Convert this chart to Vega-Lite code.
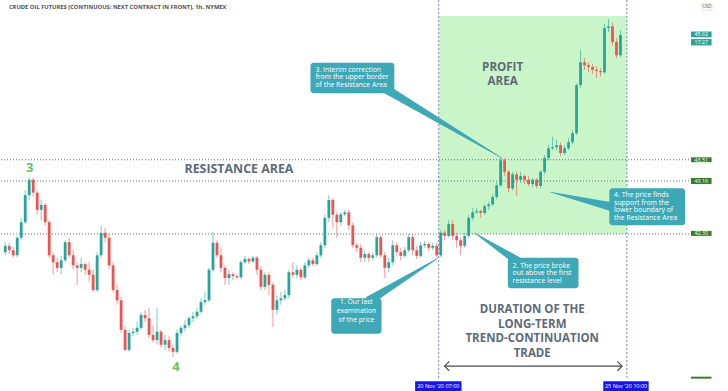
{
"$schema": "https://vega.github.io/schema/vega-lite/v6.json",
"width": 695, "height": 378,
"autosize": {"type": "none"},
"padding": {"left": 0, "top": 0, "right": 33, "bottom": 13},
"background": "#ffffff",
"config": {"view": {"stroke": null}, "font": "Open Sans"},
"datasets": {
"candles": [
{"i":1,"o":42.01,"h":42.17,"l":41.96,"c":42.11},{"i":2,"o":42.11,"h":42.16,"l":41.98,"c":42.04},{"i":3,"o":42.04,"h":42.09,"l":41.92,"c":41.96},{"i":4,"o":41.96,"h":42.27,"l":41.93,"c":42.24},{"i":5,"o":42.24,"h":42.56,"l":42.20,"c":42.49},
{"i":6,"o":42.49,"h":43.01,"l":42.46,"c":42.93},{"i":7,"o":42.93,"h":43.22,"l":42.85,"c":43.18},{"i":8,"o":43.18,"h":43.21,"l":42.90,"c":42.97},{"i":9,"o":42.97,"h":43.01,"l":42.61,"c":42.69},{"i":10,"o":42.69,"h":42.85,"l":42.52,"c":42.77},
{"i":11,"o":42.77,"h":42.80,"l":42.43,"c":42.49},{"i":12,"o":42.49,"h":42.52,"l":41.92,"c":41.96},{"i":13,"o":41.96,"h":42.01,"l":41.65,"c":41.85},{"i":14,"o":41.85,"h":41.92,"l":41.69,"c":41.76},{"i":15,"o":41.76,"h":41.95,"l":41.66,"c":41.88},
{"i":16,"o":41.88,"h":42.20,"l":41.85,"c":42.17},{"i":17,"o":42.17,"h":42.24,"l":41.92,"c":41.96},{"i":18,"o":41.96,"h":42.04,"l":41.73,"c":41.80},{"i":19,"o":41.80,"h":41.85,"l":41.49,"c":41.76},{"i":20,"o":41.76,"h":41.92,"l":41.69,"c":41.82},
{"i":21,"o":41.82,"h":41.85,"l":41.65,"c":41.73},{"i":22,"o":41.73,"h":41.85,"l":41.54,"c":41.65},{"i":23,"o":41.65,"h":41.73,"l":41.38,"c":41.41},{"i":24,"o":41.41,"h":42.01,"l":41.38,"c":41.96},{"i":25,"o":41.96,"h":42.44,"l":41.92,"c":42.32},
{"i":26,"o":42.32,"h":42.40,"l":42.17,"c":42.24},{"i":27,"o":42.24,"h":42.30,"l":41.73,"c":41.80},{"i":28,"o":41.80,"h":41.85,"l":41.38,"c":41.41},{"i":29,"o":41.41,"h":41.49,"l":41.18,"c":41.25},{"i":30,"o":41.25,"h":41.30,"l":40.74,"c":40.79},
{"i":31,"o":40.79,"h":40.85,"l":40.46,"c":40.48},{"i":32,"o":40.48,"h":40.79,"l":40.45,"c":40.74},{"i":33,"o":40.74,"h":40.82,"l":40.69,"c":40.76},{"i":34,"o":40.76,"h":40.91,"l":40.71,"c":40.82},{"i":35,"o":40.82,"h":41.07,"l":40.79,"c":41.02},
{"i":36,"o":41.02,"h":41.10,"l":40.91,"c":40.97},{"i":37,"o":40.97,"h":41.13,"l":40.66,"c":40.71},{"i":38,"o":40.71,"h":40.86,"l":40.59,"c":40.63},{"i":39,"o":40.63,"h":41.13,"l":40.56,"c":40.76},{"i":40,"o":40.76,"h":40.79,"l":40.51,"c":40.56},
{"i":41,"o":40.56,"h":40.71,"l":40.48,"c":40.63},{"i":42,"o":40.63,"h":40.69,"l":40.45,"c":40.51},{"i":43,"o":40.51,"h":40.56,"l":40.37,"c":40.45},{"i":44,"o":40.45,"h":40.79,"l":40.42,"c":40.74},{"i":45,"o":40.74,"h":40.85,"l":40.69,"c":40.82},
{"i":46,"o":40.82,"h":40.94,"l":40.76,"c":40.86},{"i":47,"o":40.86,"h":41.00,"l":40.82,"c":40.97},{"i":48,"o":40.97,"h":41.07,"l":40.91,"c":41.00},{"i":49,"o":41.00,"h":41.13,"l":40.97,"c":41.07},{"i":50,"o":41.07,"h":41.28,"l":41.04,"c":41.22},
{"i":51,"o":41.22,"h":41.38,"l":41.18,"c":41.25},{"i":52,"o":41.25,"h":41.76,"l":41.22,"c":41.73},{"i":53,"o":41.73,"h":42.33,"l":41.69,"c":42.16},{"i":54,"o":42.16,"h":42.20,"l":41.92,"c":41.96},{"i":55,"o":41.96,"h":42.09,"l":41.69,"c":41.76},
{"i":56,"o":41.76,"h":41.80,"l":41.49,"c":41.60},{"i":57,"o":41.60,"h":41.73,"l":41.49,"c":41.66},{"i":58,"o":41.66,"h":41.69,"l":41.57,"c":41.63},{"i":59,"o":41.63,"h":41.66,"l":41.58,"c":41.61},{"i":60,"o":41.61,"h":41.88,"l":41.58,"c":41.85},
{"i":61,"o":41.85,"h":41.95,"l":41.82,"c":41.90},{"i":62,"o":41.90,"h":41.93,"l":41.82,"c":41.86},{"i":63,"o":41.86,"h":41.95,"l":41.84,"c":41.92},{"i":64,"o":41.92,"h":41.95,"l":41.65,"c":41.73},{"i":65,"o":41.73,"h":41.79,"l":41.41,"c":41.46},
{"i":66,"o":41.46,"h":41.69,"l":41.41,"c":41.65},{"i":67,"o":41.65,"h":41.69,"l":41.33,"c":41.49},{"i":68,"o":41.49,"h":41.54,"l":40.83,"c":41.10},{"i":69,"o":41.10,"h":41.33,"l":41.02,"c":41.25},{"i":70,"o":41.25,"h":41.38,"l":41.18,"c":41.28},
{"i":71,"o":41.28,"h":41.41,"l":41.25,"c":41.33},{"i":72,"o":41.33,"h":41.73,"l":41.28,"c":41.69},{"i":73,"o":41.69,"h":41.85,"l":41.60,"c":41.65},{"i":74,"o":41.65,"h":41.80,"l":41.60,"c":41.73},{"i":75,"o":41.73,"h":41.76,"l":41.57,"c":41.61},
{"i":76,"o":41.61,"h":41.85,"l":41.58,"c":41.80},{"i":77,"o":41.80,"h":41.92,"l":41.76,"c":41.88},{"i":78,"o":41.88,"h":41.92,"l":41.79,"c":41.82},{"i":79,"o":41.82,"h":42.01,"l":41.79,"c":41.96},{"i":80,"o":41.96,"h":42.17,"l":41.92,"c":42.12},
{"i":81,"o":42.12,"h":42.61,"l":42.08,"c":42.56},{"i":82,"o":42.56,"h":42.93,"l":42.49,"c":42.85},{"i":83,"o":42.85,"h":42.88,"l":42.40,"c":42.61},{"i":84,"o":42.61,"h":42.65,"l":42.24,"c":42.49},{"i":85,"o":42.49,"h":42.65,"l":42.43,"c":42.62},
{"i":86,"o":42.62,"h":42.69,"l":42.59,"c":42.65},{"i":87,"o":42.65,"h":42.69,"l":42.36,"c":42.44},{"i":88,"o":42.44,"h":42.49,"l":42.08,"c":42.12},{"i":89,"o":42.12,"h":42.16,"l":42.01,"c":42.08},{"i":90,"o":42.08,"h":42.14,"l":41.85,"c":41.92},
{"i":91,"o":41.92,"h":42.04,"l":41.85,"c":41.98},{"i":92,"o":41.98,"h":42.01,"l":41.85,"c":41.92},{"i":93,"o":41.92,"h":42.01,"l":41.88,"c":41.96},{"i":94,"o":41.96,"h":42.30,"l":41.92,"c":42.25},{"i":95,"o":42.25,"h":42.28,"l":41.92,"c":41.96},
{"i":96,"o":41.96,"h":42.01,"l":41.60,"c":41.76},{"i":97,"o":41.76,"h":41.92,"l":41.69,"c":41.85},{"i":98,"o":41.85,"h":42.20,"l":41.80,"c":42.12},{"i":99,"o":42.12,"h":42.17,"l":41.95,"c":42.01},{"i":100,"o":42.01,"h":42.08,"l":41.88,"c":41.95},
{"i":101,"o":41.95,"h":42.09,"l":41.92,"c":42.04},{"i":102,"o":42.04,"h":42.30,"l":42.01,"c":42.25},{"i":103,"o":42.25,"h":42.30,"l":41.96,"c":42.04},{"i":104,"o":42.04,"h":42.11,"l":41.90,"c":41.95},{"i":105,"o":41.95,"h":42.17,"l":41.92,"c":42.12},
{"i":106,"o":42.12,"h":42.19,"l":42.08,"c":42.14},{"i":107,"o":42.14,"h":42.17,"l":42.03,"c":42.08},{"i":108,"o":42.08,"h":42.16,"l":42.04,"c":42.11},{"i":109,"o":42.11,"h":42.16,"l":41.92,"c":41.96},{"i":110,"o":41.96,"h":42.36,"l":41.93,"c":42.32},
{"i":111,"o":42.32,"h":42.36,"l":42.20,"c":42.27},{"i":112,"o":42.27,"h":42.52,"l":42.24,"c":42.46},{"i":113,"o":42.46,"h":42.52,"l":42.20,"c":42.27},{"i":114,"o":42.27,"h":42.32,"l":42.08,"c":42.20},{"i":115,"o":42.20,"h":42.25,"l":41.96,"c":42.11},
{"i":116,"o":42.11,"h":42.32,"l":42.08,"c":42.27},{"i":117,"o":42.27,"h":42.61,"l":42.24,"c":42.56},{"i":118,"o":42.56,"h":42.72,"l":42.52,"c":42.65},{"i":119,"o":42.65,"h":42.72,"l":42.62,"c":42.67},{"i":120,"o":42.67,"h":42.70,"l":42.56,"c":42.64},
{"i":121,"o":42.64,"h":42.78,"l":42.61,"c":42.75},{"i":122,"o":42.75,"h":42.82,"l":42.69,"c":42.78},{"i":123,"o":42.78,"h":42.95,"l":42.75,"c":42.90},{"i":124,"o":42.90,"h":43.14,"l":42.86,"c":43.09},{"i":125,"o":43.09,"h":43.55,"l":43.06,"c":43.50},
{"i":126,"o":43.50,"h":43.54,"l":43.24,"c":43.31},{"i":127,"o":43.31,"h":43.34,"l":42.98,"c":43.04},{"i":128,"o":43.04,"h":43.31,"l":43.01,"c":43.27},{"i":129,"o":43.27,"h":43.31,"l":42.92,"c":43.18},{"i":130,"o":43.18,"h":43.31,"l":43.13,"c":43.24},
{"i":131,"o":43.24,"h":43.27,"l":43.11,"c":43.18},{"i":132,"o":43.18,"h":43.24,"l":43.08,"c":43.11},{"i":133,"o":43.11,"h":43.21,"l":43.06,"c":43.18},{"i":134,"o":43.18,"h":43.21,"l":43.04,"c":43.08},{"i":135,"o":43.08,"h":43.34,"l":43.04,"c":43.31},
{"i":136,"o":43.31,"h":43.59,"l":43.27,"c":43.54},{"i":137,"o":43.54,"h":43.75,"l":43.50,"c":43.70},{"i":138,"o":43.70,"h":43.89,"l":43.67,"c":43.72},{"i":139,"o":43.72,"h":43.84,"l":43.67,"c":43.75},{"i":140,"o":43.75,"h":43.80,"l":43.57,"c":43.62},
{"i":141,"o":43.62,"h":43.75,"l":43.59,"c":43.70},{"i":142,"o":43.70,"h":43.87,"l":43.67,"c":43.80},{"i":143,"o":43.80,"h":44.00,"l":43.77,"c":43.95},{"i":144,"o":43.95,"h":44.79,"l":43.92,"c":44.76},{"i":145,"o":44.76,"h":45.36,"l":44.71,"c":45.15},
{"i":146,"o":45.15,"h":45.22,"l":45.02,"c":45.10},{"i":147,"o":45.10,"h":45.15,"l":44.98,"c":45.07},{"i":148,"o":45.07,"h":45.12,"l":44.95,"c":45.02},{"i":149,"o":45.02,"h":45.08,"l":44.88,"c":45.00},{"i":150,"o":45.00,"h":45.05,"l":44.91,"c":44.98},
{"i":151,"o":44.98,"h":45.81,"l":44.95,"c":45.74},{"i":152,"o":45.74,"h":45.90,"l":45.67,"c":45.77},{"i":153,"o":45.77,"h":45.84,"l":45.44,"c":45.50},{"i":154,"o":45.50,"h":45.57,"l":45.22,"c":45.27},{"i":155,"o":45.27,"h":45.70,"l":45.24,"c":45.62}
],
"pointers": [
{"id":1,"end":"base","i":92.2,"p":41.25},{"id":1,"end":"tip","i":109.5,"p":41.92},
{"id":2,"end":"base","i":129.7,"p":41.85},{"id":2,"end":"tip","i":118.4,"p":42.32},
{"id":3,"end":"base","i":95.9,"p":44.71},{"id":3,"end":"tip","i":125.3,"p":43.54},
{"id":4,"end":"base","i":152.9,"p":42.74},{"id":4,"end":"tip","i":137.4,"p":42.98}
],
"boxes": [
{"i1":82.6,"i2":95.2,"p1":41.28,"p2":40.73},
{"i1":126.8,"i2":144.5,"p1":41.92,"p2":41.44},
{"i1":77.4,"i2":98.4,"p1":45.14,"p2":44.62},
{"i1":152.2,"i2":171.2,"p1":43.04,"p2":42.44}
],
"tags": [
{"p1":45.68,"p2":45.58,"kind":"cur","text":"45.62","pt":45.63},
{"p1":45.55,"p2":45.44,"kind":"cur","text":"17:27","pt":45.495},
{"p1":43.55,"p2":43.47,"kind":"lvl","text":"43.51","pt":43.51},
{"p1":43.21,"p2":43.11,"kind":"lvl","text":"43.16","pt":43.16},
{"p1":42.35,"p2":42.27,"kind":"lvl","text":"42.30","pt":42.31},
{"p1":40.07,"p2":40.04,"kind":"lvl","text":"","pt":40.05}
],
"dates": [
{"i1":103.6,"i2":115.2,"ic":109.4,"text":"20 Nov '20   07:00"},
{"i1":150.7,"i2":162.05,"ic":156.4,"text":"25 Nov '20   10:00"}
]
},
"layer": [
{
"data": {"values": [{"i1":109.5,"i2":156.6,"p1":45.95,"p2":42.30}]},
"mark": {"type":"rect","color":"#c9f5c9"},
"encoding": {
"x": {"field":"i1","type":"quantitative","scale":{"domain":[0.94,172.4],"nice":false,"zero":false},
"axis":{"title":null,"values":[15,30,45,60,75,90,105,120,135,150,165],"labelExpr":"['12','13','16','17','18','19','20','23','24','25','26'][datum.value/15-1]","grid":true,"gridColor":"#eef0f5","ticks":false,"domainColor":"#a3a6af","labelColor":"#50535e","labelFontSize":5.5,"labelPadding":5,"labelFont":"Open Sans"}},
"x2": {"field":"i2"},
"y": {"field":"p1","type":"quantitative","scale":{"type":"log","domain":[40.05,46.23],"nice":false},
"axis":{"title":null,"orient":"right","values":[40.23,40.45,40.7,40.95,41.2,41.5,41.8,42.1,42.4,42.7,43.1,43.5,43.9,44.3,44.7,45.1,45.5,46],"format":".2f","grid":true,"gridColor":"#eef0f5","tickSize":3,"tickColor":"#a3a6af","domainColor":"#a3a6af","labelColor":"#50535e","labelFontSize":5.5,"labelPadding":2,"labelFont":"Open Sans"}},
"y2": {"field":"p2"}
}
},
{
"data": {"values": [{"p":43.51},{"p":43.16},{"p":42.30}]},
"mark": {"type":"rule","color":"#6b6e78","strokeDash":[1,2],"strokeWidth":1},
"encoding": {"y": {"field":"p","type":"quantitative","axis":null}}
},
{
"data": {"values": [{"i":109.5},{"i":156.6}]},
"mark": {"type":"rule","color":"#7b83c9","strokeDash":[2,2],"strokeWidth":1},
"encoding": {"x": {"field":"i","type":"quantitative","axis":null}}
},
{
"data": {"name":"candles"},
"mark": {"type":"rule","strokeWidth":1,"opacity":0.6},
"encoding": {
"x": {"field":"i","type":"quantitative","axis":null},
"y": {"field":"l","type":"quantitative","axis":null},
"y2": {"field":"h"},
"color": {"condition":{"test":"datum.c >= datum.o","value":"#26a69a"},"value":"#ef5350"}
}
},
{
"data": {"name":"candles"},
"mark": {"type":"bar","width":2.8},
"encoding": {
"x": {"field":"i","type":"quantitative","axis":null},
"y": {"field":"o","type":"quantitative","axis":null},
"y2": {"field":"c"},
"color": {"condition":{"test":"datum.c >= datum.o","value":"#26a69a"},"value":"#ef5350"}
}
},
{
"data": {"values": [{"i":59.5,"p":43.36,"text":"RESISTANCE AREA"}]},
"mark": {"type":"text","font":"Open Sans","fontSize":12.4,"fontWeight":"bold","color":"#5d6b78","align":"center","baseline":"middle"},
"encoding": {"x":{"field":"i","type":"quantitative","axis":null},"y":{"field":"p","type":"quantitative","axis":null},"text":{"field":"text"}}
},
{
"data": {"values": [{"i":125.5,"p":45.06,"text":"PROFIT\nAREA"}]},
"mark": {"type":"text","font":"Open Sans","fontSize":11.6,"fontWeight":"bold","color":"#5d6b78","align":"center","baseline":"middle","lineBreak":"\n","lineHeight":14},
"encoding": {"x":{"field":"i","type":"quantitative","axis":null},"y":{"field":"p","type":"quantitative","axis":null},"text":{"field":"text"}}
},
{
"data": {"values": [{"i":132.9,"p":41.10,"text":"DURATION OF THE\nLONG-TERM\nTREND-CONTINUATION\nTRADE"}]},
"mark": {"type":"text","font":"Open Sans","fontSize":11.5,"fontWeight":"bold","color":"#5d6b78","align":"center","baseline":"middle","lineBreak":"\n","lineHeight":14.8},
"encoding": {"x":{"field":"i","type":"quantitative","axis":null},"y":{"field":"p","type":"quantitative","axis":null},"text":{"field":"text"}}
},
{
"data": {"values": [{"i":7.1,"p":43.37,"text":"3"},{"i":43.74,"p":40.21,"text":"4"}]},
"mark": {"type":"text","font":"Open Sans","fontSize":13,"fontWeight":"bold","color":"#6abf69","align":"center","baseline":"middle"},
"encoding": {"x":{"field":"i","type":"quantitative","axis":null},"y":{"field":"p","type":"quantitative","axis":null},"text":{"field":"text"}}
},
{
"data": {"values": [{"i":1.92,"p":46.105,"text":"CRUDE OIL FUTURES [CONTINUOUS: NEXT CONTRACT IN FRONT], 1h, NYMEX"}]},
"mark": {"type":"text","font":"Open Sans","fontSize":5.8,"fontWeight":"bold","color":"#4c4f57","align":"left","baseline":"middle"},
"encoding": {"x":{"field":"i","type":"quantitative","axis":null},"y":{"field":"p","type":"quantitative","axis":null},"text":{"field":"text"}}
},
{
"data": {"name":"pointers"},
"mark": {"type":"trail","color":"#3ea8b6"},
"encoding": {
"x":{"field":"i","type":"quantitative","axis":null},
"y":{"field":"p","type":"quantitative","axis":null},
"detail":{"field":"id","type":"nominal"},
"size":{"field":"end","type":"ordinal","scale":{"domain":["base","tip"],"range":[9,0.5]},"legend":null}
}
},
{
"data": {"name":"boxes"},
"mark": {"type":"rect","color":"#3ea8b6","cornerRadius":3},
"encoding": {"x":{"field":"i1","type":"quantitative","axis":null},"x2":{"field":"i2"},"y":{"field":"p1","type":"quantitative","axis":null},"y2":{"field":"p2"}}
},
{
"data": {"values": [{"i":88.9,"p":41.22,"text":"1. Our last\nexamination\nof the price"}]},
"mark": {"type":"text","font":"Open Sans","fontSize":6.8,"color":"#ffffff","align":"center","baseline":"middle","lineBreak":"\n","lineHeight":9},
"encoding": {"x":{"field":"i","type":"quantitative","axis":null},"y":{"field":"p","type":"quantitative","axis":null},"text":{"field":"text"}}
},
{
"data": {"values": [
{"i":128.0,"p":41.79,"text":"2. The price broke\nout above the first\nresistance level"},
{"i":78.65,"p":45.02,"text":"3. Interim correction\nfrom the upper border\nof the Resistance Area"},
{"i":153.4,"p":42.93,"text":"4. The price finds\nsupport from the\nlower boundary of\nthe Resistance Area"}]},
"mark": {"type":"text","font":"Open Sans","fontSize":6.9,"color":"#ffffff","align":"left","baseline":"middle","lineBreak":"\n","lineHeight":7.5},
"encoding": {"x":{"field":"i","type":"quantitative","axis":null},"y":{"field":"p","type":"quantitative","axis":null},"text":{"field":"text"}}
},
{
"data": {"values": [{"i":110.97,"i2":155.4,"p":40.23}]},
"mark": {"type":"rule","color":"#4a4a4a","strokeWidth":1.2},
"encoding": {"x":{"field":"i","type":"quantitative","axis":null},"x2":{"field":"i2"},"y":{"field":"p","type":"quantitative","axis":null}}
},
{
"data": {"values": [{"i":110.97,"p":40.23,"dir":"left"},{"i":155.4,"p":40.23,"dir":"right"}]},
"mark": {"type":"point","filled":false,"color":"#4a4a4a","strokeWidth":1.2,"size":90,"opacity":1},
"encoding": {"x":{"field":"i","type":"quantitative","axis":null},"y":{"field":"p","type":"quantitative","axis":null},
"shape":{"field":"dir","type":"nominal","scale":{"domain":["left","right"],"range":["M1,-1L0,0L1,1","M-1,-1L0,0L-1,1"]},"legend":null}}
},
{
"data": {"name":"dates"},
"mark": {"type":"rect","color":"#1414ee"},
"encoding": {"x":{"field":"i1","type":"quantitative","axis":null},"x2":{"field":"i2"},"y":{"datum":40.0,"type":"quantitative","axis":null},"y2":{"datum":39.85}}
},
{
"data": {"name":"dates"},
"mark": {"type":"text","font":"Open Sans","fontSize":5.5,"color":"#ffffff","align":"center","baseline":"middle"},
"encoding": {"x":{"field":"ic","type":"quantitative","axis":null},"y":{"datum":39.925,"type":"quantitative","axis":null},"text":{"field":"text"}}
},
{
"data": {"name":"tags"},
"mark": {"type":"rect"},
"encoding": {"x":{"datum":172.65,"type":"quantitative","axis":null},"x2":{"datum":177.8},"y":{"field":"p1","type":"quantitative","axis":null},"y2":{"field":"p2"},
"color":{"field":"kind","type":"nominal","scale":{"domain":["cur","lvl"],"range":["#26a69a","#387d2a"]},"legend":null}}
},
{
"data": {"name":"tags"},
"mark": {"type":"text","font":"Open Sans","fontSize":5.3,"color":"#ffffff","align":"center","baseline":"middle"},
"encoding": {"x":{"datum":175.2,"type":"quantitative","axis":null},"y":{"field":"pt","type":"quantitative","axis":null},"text":{"field":"text"}}
},
{
"data": {"values": [{"p1":46.16,"p2":46.05,"pt":46.105,"text":"USD"}]},
"mark": {"type":"rect","fill":"#ffffff","stroke":"#c8cbd2","strokeWidth":0.6},
"encoding": {"x":{"datum":175.4,"type":"quantitative","axis":null},"x2":{"datum":177.9},"y":{"field":"p1","type":"quantitative","axis":null},"y2":{"field":"p2"}}
},
{
"data": {"values": [{"pt":46.105,"text":"USD"}]},
"mark": {"type":"text","font":"Open Sans","fontSize":4.5,"color":"#50535e","align":"center","baseline":"middle"},
"encoding": {"x":{"datum":176.65,"type":"quantitative","axis":null},"y":{"field":"pt","type":"quantitative","axis":null},"text":{"field":"text"}}
}
]
}
